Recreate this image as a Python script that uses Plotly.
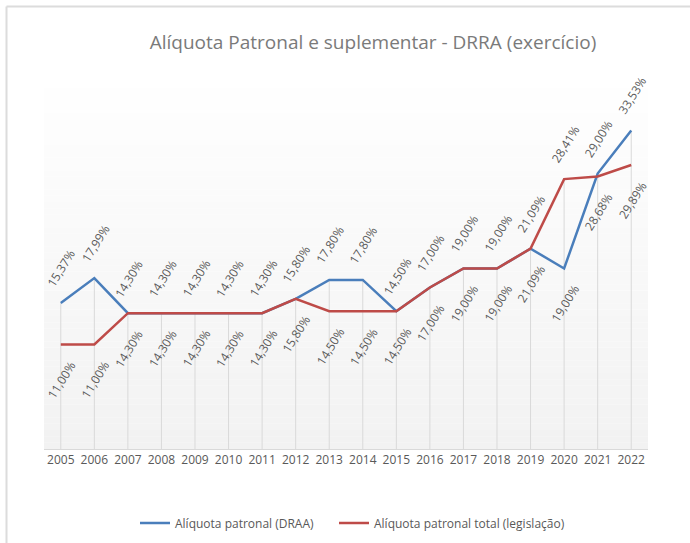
import plotly.graph_objects as go

# Employer contribution rates by fiscal year (%)
anos = ["2005", "2006", "2007", "2008", "2009", "2010", "2011", "2012", "2013",
        "2014", "2015", "2016", "2017", "2018", "2019", "2020", "2021", "2022"]
aliquota_draa = [15.37, 17.99, 14.30, 14.30, 14.30, 14.30, 14.30, 15.80, 17.80,
                 17.80, 14.50, 17.00, 19.00, 19.00, 21.09, 19.00, 29.00, 33.53]
aliquota_legislacao = [11.00, 11.00, 14.30, 14.30, 14.30, 14.30, 14.30, 15.80, 14.50,
                       14.50, 14.50, 17.00, 19.00, 19.00, 21.09, 28.41, 28.68, 29.89]

AZUL = "#4a7ebb"
VERMELHO = "#be4b48"
CINZA_TEXTO = "#595959"
FONTE = "Open Sans"

# plot-area geometry (pixels)
W, H = 690, 543
ML, MR, MT, MB = 44, 42, 69, 94
PW = W - ML - MR
PH = H - MT - MB


def px_x(px):
    return (px - ML) / PW


def px_y(py):
    return (H - MB - py) / PH


def fmt(v):
    return f"{v:.2f}".replace(".", ",") + "%"


fig = go.Figure()

# drop lines from the highest point of each year down to the axis
dx, dy = [], []
for a, b, c in zip(anos, aliquota_draa, aliquota_legislacao):
    dx += [a, a, None]
    dy += [0, max(b, c), None]
fig.add_trace(go.Scatter(x=dx, y=dy, mode="lines", line=dict(color="#d9d9d9", width=1),
                         hoverinfo="skip", showlegend=False))

fig.add_trace(go.Scatter(x=anos, y=aliquota_draa, mode="lines", name="Alíquota patronal (DRAA)",
                         line=dict(color=AZUL, width=2.5), legend="legend"))
fig.add_trace(go.Scatter(x=anos, y=aliquota_legislacao, mode="lines",
                         name="Alíquota patronal total (legislação)",
                         line=dict(color=VERMELHO, width=2.5), legend="legend2"))

# rotated value labels: upper series above its point, lower series below
anot = []
for i, (b, c) in enumerate(zip(aliquota_draa, aliquota_legislacao)):
    for v, acima in ((b, b >= c), (c, c > b)):
        anot.append(dict(x=i, y=v, xref="x", yref="y", text=fmt(v), showarrow=False,
                         textangle=-58, xanchor="center", yanchor="middle",
                         xshift=1, yshift=35 if acima else -35,
                         font=dict(family=FONTE, size=12, color=CINZA_TEXTO)))

# soft vertical gradient behind the plot area
shapes = []
n = 60
for i in range(n):
    t = i / (n - 1)
    g = round(242 + (255 - 242) * t)
    shapes.append(dict(type="rect", xref="paper", yref="paper", x0=0, x1=1,
                       y0=i / n, y1=(i + 1) / n, line=dict(width=0),
                       fillcolor=f"rgb({g},{g},{g})", layer="below"))

# chart frame (left and top edges)
shapes.append(dict(type="line", xref="paper", yref="paper",
                   x0=px_x(6.5), x1=px_x(6.5), y0=px_y(543), y1=px_y(6.5),
                   line=dict(color="#dcdcdc", width=2)))
shapes.append(dict(type="line", xref="paper", yref="paper",
                   x0=px_x(6.5), x1=px_x(700), y0=px_y(6.5), y1=px_y(6.5),
                   line=dict(color="#dcdcdc", width=2)))

leg_font = dict(family=FONTE, size=12, color=CINZA_TEXTO)

fig.update_layout(
    width=W, height=H,
    margin=dict(l=ML, r=MR, t=MT, b=MB, autoexpand=False),
    paper_bgcolor="white", plot_bgcolor="white",
    title=dict(text="Alíquota Patronal e suplementar - DRRA (exercício)",
               x=373 / W, xanchor="center", xref="container",
               y=1 - 42 / H, yanchor="middle", yref="container",
               font=dict(family=FONTE, size=19, color="#7a7a7a")),
    xaxis=dict(type="category", range=[-0.5, 17.5], showgrid=False, zeroline=False,
               showline=True, linecolor="#d9d9d9", linewidth=1, ticks="",
               tickfont=dict(family=FONTE, size=12, color=CINZA_TEXTO)),
    yaxis=dict(range=[0, 40], visible=False),
    legend=dict(orientation="h", x=px_x(135), xanchor="left", y=px_y(523), yanchor="middle",
                font=leg_font, itemwidth=30),
    legend2=dict(orientation="h", x=px_x(334), xanchor="left", y=px_y(523), yanchor="middle",
                 font=leg_font, itemwidth=30),
    annotations=anot,
    shapes=shapes,
    showlegend=True,
)

fig.write_html("out.html")
